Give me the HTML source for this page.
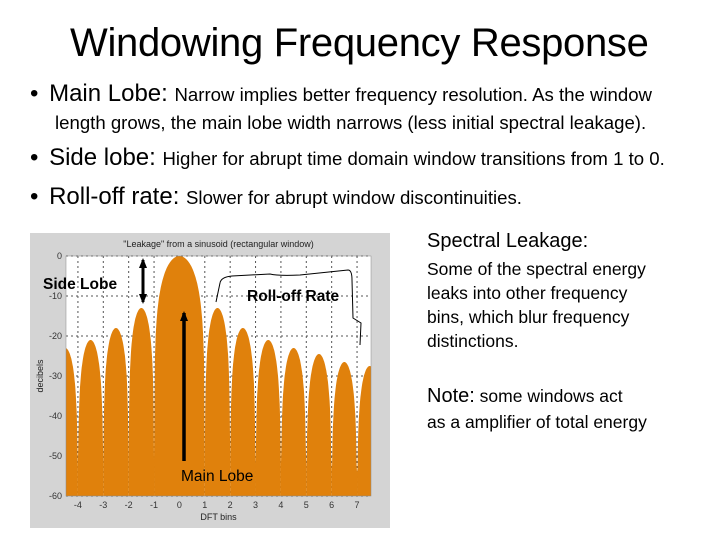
<!DOCTYPE html>
<html><head><meta charset="utf-8"><style>
body{margin:0;width:720px;height:540px;background:#fff;overflow:hidden;position:relative;font-family:"Liberation Sans",sans-serif}
.t{position:absolute;white-space:nowrap;color:#000}
</style></head><body>
<div class="t" style="left:70px;top:21px;font-size:40px;letter-spacing:-0.3px">Windowing Frequency Response</div>
<div class="t" style="left:30px;top:80px;font-size:24px">• <span style="margin-left:4px">Main Lobe:</span> <span style="font-size:18.6px">Narrow implies better frequency resolution. As the window</span></div>
<div class="t" style="left:55px;top:112px;font-size:18.6px">length grows, the main lobe width narrows (less initial spectral leakage).</div>
<div class="t" style="left:30px;top:144px;font-size:24px">• <span style="margin-left:4px">Side lobe:</span> <span style="font-size:18.6px">Higher for abrupt time domain window transitions from 1 to 0.</span></div>
<div class="t" style="left:30px;top:183px;font-size:24px">• <span style="margin-left:4px">Roll-off rate:</span> <span style="font-size:18.6px">Slower for abrupt window discontinuities.</span></div>
<div class="t" style="left:427px;top:230px;font-size:20px">Spectral Leakage:</div>
<div class="t" style="left:427px;top:257px;font-size:17.5px;line-height:24px">Some of the spectral energy<br>leaks into other frequency<br>bins, which blur frequency<br>distinctions.</div>
<div class="t" style="left:427px;top:383px;font-size:17.5px;line-height:26px"><span style="font-size:20px">Note:</span> some windows act<br>as a amplifier of total energy</div>
<svg id="chart" width="720" height="540" style="position:absolute;left:0;top:0"></svg>
<script>
const xTicks=[-4,-3,-2,-1,0,1,2,3,4,5,6,7];
const yTicks=[0,-10,-20,-30,-40,-50,-60];
const lobeStarts=[-5,-4,-3,-2,-1,1,2,3,4,5,6,7];
const lobeEnds=[-4,-3,-2,-1,1,2,3,4,5,6,7,8];
const lobePeaks=[-23,-21,-18,-13,0,-13,-18,-21,-23,-24.5,-26.5,-27.5];
const nullDepth=[-53,-52,-52,-51,-51,-50,-52,-52,-53,-53,-54,-54];
const NS='http://www.w3.org/2000/svg';
const svg=document.getElementById('chart');
const PL=66,PR=371,PT=256,PB=496,XMIN=-4.47,XMAX=7.55;
const X=v=>PL+(v-XMIN)/(XMAX-XMIN)*(PR-PL);
const Y=v=>PT+(0-v)/60*(PB-PT);
function mk(t,a){const e=document.createElementNS(NS,t);for(const k in a)e.setAttribute(k,a[k]);svg.appendChild(e);return e;}
let e=mk('rect',{x:30,y:233,width:360,height:295,fill:'#d4d4d4'});

e=mk('rect',{x:PL,y:PT,width:PR-PL,height:PB-PT,fill:'#fff'});

xTicks.forEach(v=>{const g=mk('line',{x1:X(v),x2:X(v),y1:PT,y2:PB,stroke:'#555','stroke-dasharray':'2,3','stroke-width':1});

const t=mk('text',{x:X(v),y:PB+12,'font-size':9,'text-anchor':'middle',fill:'#333'});t.textContent=v;
});
yTicks.forEach(v=>{const g=mk('line',{x1:PL,x2:PR,y1:Y(v),y2:Y(v),stroke:'#555','stroke-dasharray':'2,3','stroke-width':1});

const t=mk('text',{x:PL-4,y:Y(v)+3,'font-size':9,'text-anchor':'end',fill:'#333'});t.textContent=v;
});
lobePeaks.forEach((p,i)=>{const a=lobeStarts[i],b=lobeEnds[i];
 const clip=v=>Math.max(Math.min(v,0),-60);
 let pts=[];for(let k=0;k<=60;k++){const s=k/60;const x=a+(b-a)*s;
  let db=p+20*Math.log10(Math.max(Math.sin(Math.PI*s),1e-4));db=Math.max(db,nullDepth[i]);
  const xc=Math.min(Math.max(x,XMIN),XMAX);pts.push(X(xc).toFixed(1)+','+Y(clip(db)).toFixed(1));}
 const p0=mk('path',{d:'M'+X(Math.max(a,XMIN))+','+PB+' L'+pts.join(' L')+' L'+X(Math.min(b,XMAX))+','+PB+'Z',fill:'#e0810c'});
 });
e=mk('rect',{x:PL,y:PT,width:PR-PL,height:PB-PT,fill:'none',stroke:'#888','stroke-width':0.5});

e=mk('text',{x:(PL+PR)/2,y:247,'font-size':9,'text-anchor':'middle',fill:'#222'});e.textContent='"Leakage" from a sinusoid (rectangular window)';

e=mk('text',{x:(PL+PR)/2,y:520,'font-size':9,'text-anchor':'middle',fill:'#222'});e.textContent='DFT bins';

e=mk('text',{x:43,y:376,'font-size':9,'text-anchor':'middle',fill:'#222',transform:'rotate(-90 43 376)'});e.textContent='decibels';

const defs=mk('defs',{});defs.innerHTML='<marker id="ah" markerUnits="userSpaceOnUse" markerWidth="10" markerHeight="10" refX="8" refY="5" orient="auto"><path d="M0,1 L10,5 L0,9z" fill="#000"/></marker><marker id="ahs" markerUnits="userSpaceOnUse" markerWidth="10" markerHeight="10" refX="2" refY="5" orient="auto"><path d="M10,1 L0,5 L10,9z" fill="#000"/></marker>';
e=mk('line',{x1:143,y1:260,x2:143,y2:302,stroke:'#000','stroke-width':3,'marker-start':'url(#ahs)','marker-end':'url(#ah)'});

e=mk('line',{x1:184,y1:461,x2:184,y2:313,stroke:'#000','stroke-width':3.5,'marker-end':'url(#ah)'});

e=mk('path',{d:'M216,302 L220,283 Q221,277 232,276 L270,274 Q278,276 300,275 L348,270 Q352,270 352,280 L353,318 L361,323 L360,345',fill:'none',stroke:'#000','stroke-width':1});

[['side-lobe-label','Side Lobe',43,289,'bold'],['roll-off-label','Roll-off Rate',247,301,'bold'],['main-lobe-label','Main Lobe',181,481,'normal']].forEach(a=>{
 const t=mk('text',{x:a[2],y:a[3],'font-size':15.5,'font-weight':a[4],fill:'#000'});t.textContent=a[1];
 });
</script>
</body></html>
